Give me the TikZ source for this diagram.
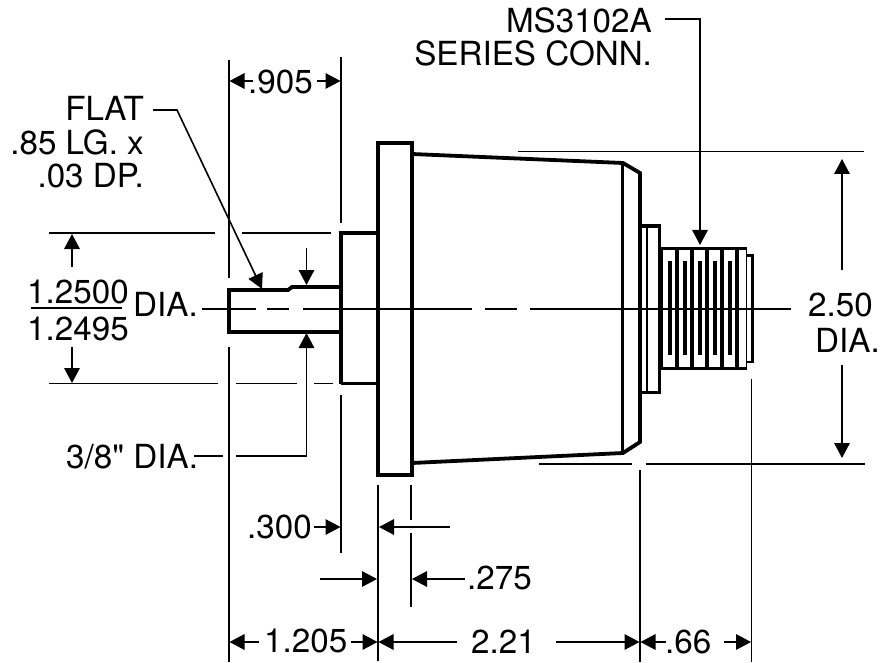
\documentclass[tikz,border=0pt]{standalone}
\usepackage{fontspec}
\setmainfont{TeX Gyre Heros}
\usetikzlibrary{arrows.meta}

\begin{document}
\begin{tikzpicture}[
    x=1pt, y=-1pt,
    part/.style={draw, line width=3.8pt, miter limit=4},
    thinpart/.style={draw, line width=1.6pt},
    ext/.style={draw, line width=1.5pt},
    arrow/.style={-{Triangle[length=15pt,width=15.5pt]}, line width=1.6pt},
    dimtext/.style={inner sep=0pt, anchor=base west, font=\fontsize{33.2}{33.5}\selectfont},
    righttext/.style={dimtext, anchor=base east}
]
\useasboundingbox (0,0) rectangle (886,663);

% shaft and collar
\draw[part] (341,287) -- (292,287) -- (288,290) -- (229,290) -- (229,332) -- (341,332);
\draw[part] (341,383.5) -- (341,233) -- (378,233);
\draw[part] (341,383.5) -- (378,383.5);
\draw[part] (378,143) rectangle (412,475);

% body
\draw[part] (412,154) -- (623,163) -- (640,173) -- (640,442) -- (623,453) -- (412,463);
\draw[part, line width=3pt] (622.5,163) -- (622.5,453);

% rear collar and connector
\draw[part] (640,226) -- (659.5,226) -- (659.5,392.5) -- (640,392.5);
\draw[thinpart] (647,226) -- (647,392);
\draw[part, line width=5pt] (660.5,247) -- (660.5,369);
\draw[part, line width=3pt] (660,248) -- (747,248);
\draw[part, line width=3pt] (660,368) -- (747,368);
\draw[part, line width=3.4pt] (677,248) -- (677,368) (692,248) -- (692,368) (707,248) -- (707,368)
    (722,248) -- (722,368) (737,248) -- (737,368);
\draw[part, line width=4pt] (669.5,261) -- (669.5,355) (684.5,261) -- (684.5,355) (699.5,261) -- (699.5,355)
    (714.5,261) -- (714.5,355) (729.5,261) -- (729.5,355);
\draw[thinpart] (746.5,248) -- (746.5,368);
\draw[part, line width=2.8pt] (746,255.5) -- (752.5,255.5) -- (752.5,362) -- (746,362);

% extension lines
\draw[ext] (229,60) -- (229,278);
\draw[ext] (229,347) -- (229,662);
\draw[ext] (341,57) -- (341,223);
\draw[ext] (341,395) -- (341,553);
\draw[ext] (378,485) -- (378,661);
\draw[ext] (411,485) -- (411,520);
\draw[ext] (411,533) -- (411,607);
\draw[ext] (640,470) -- (640,662);
\draw[ext] (751.5,379) -- (751.5,662);
\draw[ext] (49,233) -- (215,233);
\draw[ext] (242,233) -- (331,233);
\draw[ext] (49,383.5) -- (218,383.5);
\draw[ext] (236,383.5) -- (297,383.5);
\draw[ext] (314,383.5) -- (333,383.5);
\draw[ext] (518,151.5) -- (864,151.5);
\draw[ext] (539,464) -- (632,464);
\draw[ext] (646,464) -- (865,464);

% centre line
\draw[ext] (202,309) -- (256,309);
\draw[ext] (267,309) -- (289,309);
\draw[ext] (303,309) -- (472,309);
\draw[ext] (485,309) -- (517,309);
\draw[ext] (530,309) -- (791,309);

% labels
\node[dimtext] (dim905) at (248,94) {.905};
\node[righttext, align=right] (flat) at (144,188) {FLAT\\.85 LG. x\\.03 DP.};
\node[dimtext] (dimhigh) at (27,303) {1.2500};
\node[dimtext] (dimlow) at (27,340) {1.2495};
\node[dimtext] (dialeft) at (133,316) {DIA.};
\node[dimtext] (dia38) at (66,468) {3/8\textquotedbl{} DIA.};
\node[dimtext] (dim300) at (247,538) {.300};
\node[dimtext] (dim275) at (467,589) {.275};
\node[dimtext] (dim1205) at (264,652) {1.205};
\node[dimtext] (dim221) at (471,653) {2.21};
\node[dimtext] (dim66) at (665,653) {.66};
\node[dimtext] (dim250) at (808,316) {2.50};
\node[dimtext] (diaright) at (815,352) {DIA.};
\node[righttext, align=right] (conn) at (652,66) {MS3102A\\SERIES CONN.};

% fraction bar and leaders
\draw[ext] (31,308) -- (122,308);
\draw[arrow] (153,110) -- (177,110) -- (262,289);
\draw[arrow] (665,19) -- (700,19) -- (700,245);
\draw[ext] (194,456) -- (223,456);
\draw[arrow] (236,456) -- (306.5,456) -- (306.5,333);

% dimension arrows
\draw[arrow] (253,81) -- (229.5,81);
\draw[arrow] (317,81) -- (340.5,81);
\draw[arrow] (72,267) -- (72,234);
\draw[arrow] (72,347) -- (72,383);
\draw[arrow] (306.5,248) -- (306.5,285);
\draw[arrow] (842,270) -- (842,159);
\draw[arrow] (842,365) -- (842,458);
\draw[arrow] (314,527) -- (340.5,527);
\draw[arrow] (450,527) -- (379,527);
\draw[arrow] (320,579) -- (377,579);
\draw[arrow] (465,579) -- (412,579);
\draw[arrow] (259,642) -- (229.5,642);
\draw[arrow] (351,642) -- (377.5,642);
\draw[arrow] (457,642) -- (378.5,642);
\draw[arrow] (556,642) -- (639.5,642);
\draw[arrow] (666,642) -- (640.5,642);
\draw[arrow] (724,642) -- (751,642);

\end{tikzpicture}
\end{document}
